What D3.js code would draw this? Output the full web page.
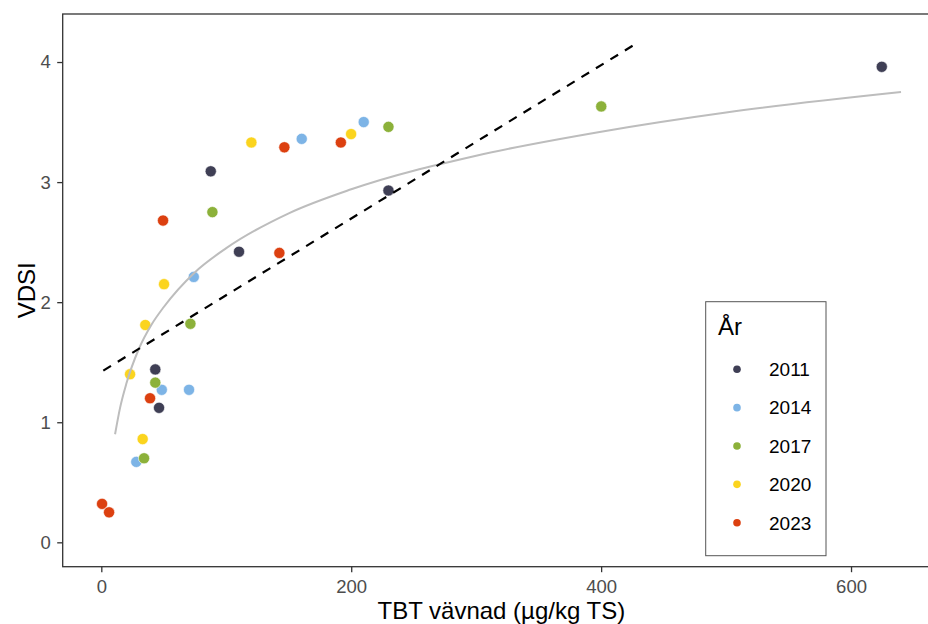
<!DOCTYPE html>
<html>
<head>
<meta charset="utf-8">
<script src="https://cdn.jsdelivr.net/npm/d3@7"></script>
<style>
  html, body { margin: 0; padding: 0; background: #fff; }
  svg { display: block; font-family: "Liberation Sans", Arial, sans-serif; }
</style>
</head>
<body>
<svg id="chart" width="928" height="624"></svg>
<script>
// Survey years and their colours
const years = ["2011", "2014", "2017", "2020", "2023"];
const yearColors = ["#3f3f55", "#7db4e6", "#8cb13a", "#fbd41e", "#dc4010"];

// [TBT in tissue (µg/kg TS), VDSI] per station, by year
const obs2011 = [[87.6, 3.09], [110.2, 2.42], [43.2, 1.44], [46.2, 1.12], [229.8, 2.93], [624.6, 3.96]];
const obs2014 = [[74.0, 2.21], [48.4, 1.27], [70.2, 1.27], [28.0, 0.67], [160.4, 3.36], [210.0, 3.50]];
const obs2017 = [[88.9, 2.75], [71.3, 1.82], [43.2, 1.33], [34.2, 0.70], [229.8, 3.46], [400.1, 3.63]];
const obs2020 = [[50.2, 2.15], [35.2, 1.81], [23.0, 1.40], [33.1, 0.86], [120.1, 3.33], [199.9, 3.40]];
const obs2023 = [[49.4, 2.68], [39.0, 1.20], [0.6, 0.32], [6.2, 0.25], [146.5, 3.29], [142.5, 2.41], [191.7, 3.33]];
const obsByYear = [obs2011, obs2014, obs2017, obs2020, obs2023];

// Logarithmic fit (grey curve), sampled along TBT
const fitTbt  = [11, 15, 20, 30, 40, 50, 75, 100, 150, 200, 300, 400, 500, 640];
const fitVdsi = [0.90, 1.12, 1.32, 1.61, 1.81, 1.96, 2.25, 2.45, 2.74, 2.94, 3.22, 3.42, 3.58, 3.75];

// Linear fit (dashed line) end points
const linTbt  = [1.6, 427.5];
const linVdsi = [1.43, 4.15];

// Axis ticks
const xTicks = [0, 200, 400, 600];
const yTicks = [0, 1, 2, 3, 4];

const svg = d3.select("#chart");
const panel = { left: 62.7, right: 940, top: 14, bottom: 566.7 };

const x = d3.scaleLinear().domain([-30.9, 671.2]).range([panel.left, panel.right]);
const y = d3.scaleLinear().domain([-0.203, 4.40]).range([panel.bottom, panel.top]);

// Points
const pts = svg.append("g");
obsByYear.forEach((arr, i) => {
  pts.selectAll(null)
    .data(arr)
    .enter()
    .append("circle")
    .attr("cx", d => x(d[0]))
    .attr("cy", d => y(d[1]))
    .attr("r", 5.6)
    .attr("fill", yearColors[i])
    .attr("stroke", "#ffffff")
    .attr("stroke-width", 0.6);
});

// Grey log-fit curve
const fitData = fitTbt.map((t, i) => [t, fitVdsi[i]]);
svg.append("path")
  .datum(fitData)
  .attr("fill", "none")
  .attr("stroke", "#bdbdbd")
  .attr("stroke-width", 2)
  .attr("d", d3.line().x(d => x(d[0])).y(d => y(d[1])).curve(d3.curveMonotoneX));

// Dashed linear fit
const linData = linTbt.map((t, i) => [t, linVdsi[i]]);
svg.append("path")
  .datum(linData)
  .attr("fill", "none")
  .attr("stroke", "#000")
  .attr("stroke-width", 2.2)
  .attr("stroke-dasharray", "9,8")
  .attr("d", d3.line().x(d => x(d[0])).y(d => y(d[1])));

// Panel border
svg.append("rect")
  .attr("x", panel.left)
  .attr("y", panel.top)
  .attr("width", panel.right - panel.left)
  .attr("height", panel.bottom - panel.top)
  .attr("fill", "none")
  .attr("stroke", "#333333")
  .attr("stroke-width", 1.3);

// Axes
const xAxis = svg.append("g")
  .attr("transform", `translate(0,${panel.bottom})`)
  .call(d3.axisBottom(x).tickValues(xTicks).tickSize(5.5).tickPadding(7.5).tickFormat(d3.format("d")));
const yAxis = svg.append("g")
  .attr("transform", `translate(${panel.left},0)`)
  .call(d3.axisLeft(y).tickValues(yTicks).tickSize(5.5).tickPadding(6.5).tickFormat(d3.format("d")));

[xAxis, yAxis].forEach(g => {
  g.select(".domain").remove();
  g.selectAll(".tick line").attr("stroke", "#333333").attr("stroke-width", 1.3);
  g.selectAll(".tick text")
    .attr("fill", "#4d4d4d")
    .style("font-size", "18.5px")
    .style("font-family", "'Liberation Sans', Arial, sans-serif");
});

// Axis titles
svg.append("text")
  .attr("x", (panel.left + panel.right) / 2)
  .attr("y", 619)
  .attr("text-anchor", "middle")
  .style("font-size", "24px")
  .attr("fill", "#000")
  .text("TBT vävnad (µg/kg TS)");

svg.append("text")
  .attr("transform", `translate(35,${(panel.top + panel.bottom) / 2}) rotate(-90)`)
  .attr("text-anchor", "middle")
  .style("font-size", "24px")
  .attr("fill", "#000")
  .text("VDSI");

// Legend
const legend = svg.append("g");
legend.append("rect")
  .attr("x", 705.7)
  .attr("y", 301.7)
  .attr("width", 120.3)
  .attr("height", 254)
  .attr("fill", "#fff")
  .attr("stroke", "#555555")
  .attr("stroke-width", 1);
legend.append("text")
  .attr("x", 718)
  .attr("y", 335)
  .style("font-size", "24px")
  .attr("fill", "#000")
  .text("År");
const keyY = d3.scalePoint().domain(years).range([369.3, 522.7]);
years.forEach((yr, i) => {
  legend.append("circle")
    .attr("cx", 737)
    .attr("cy", keyY(yr))
    .attr("r", 3.8)
    .attr("fill", yearColors[i]);
  legend.append("text")
    .attr("x", 769)
    .attr("y", keyY(yr))
    .attr("dy", "0.36em")
    .style("font-size", "19px")
    .attr("fill", "#000")
    .text(yr);
});
</script>
</body>
</html>
